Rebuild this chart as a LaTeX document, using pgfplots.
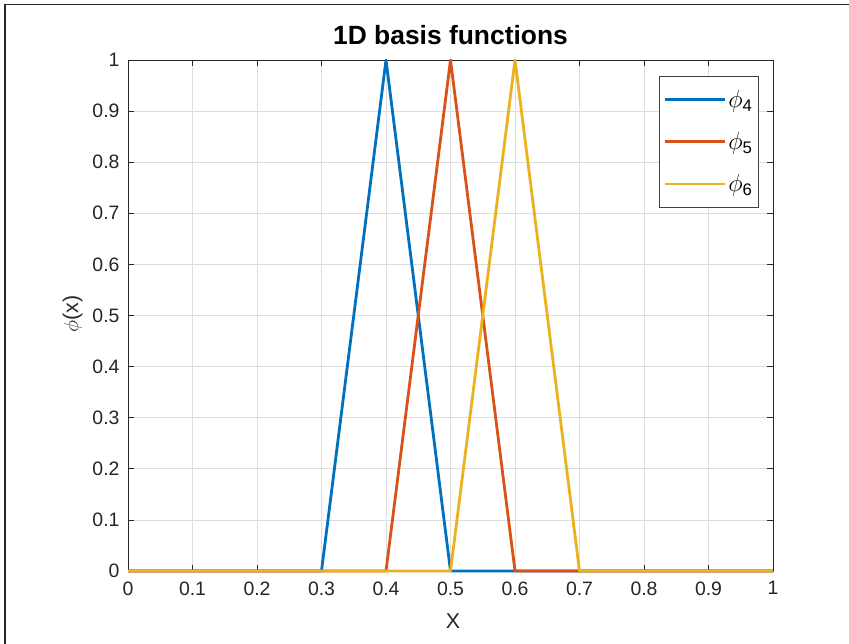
\documentclass[border=0pt]{standalone}
\usepackage{pgfplots}
\pgfplotsset{compat=1.18}
\usepackage{fontspec}
\setmainfont{Liberation Sans}

\definecolor{c1}{rgb}{0,0.447,0.741}
\definecolor{c2}{rgb}{0.850,0.325,0.098}
\definecolor{c3}{rgb}{0.929,0.694,0.125}
\definecolor{axgray}{rgb}{0.15,0.15,0.15}

\begin{document}
\begin{tikzpicture}[x=1bp,y=1bp]
\path[use as bounding box] (0,0) rectangle (849,644);
\fill[white] (0,0) rectangle (849,644);
\draw[line width=1.3bp, black!85] (5,0) -- (5,639.5) -- (849,639.5);
\begin{axis}[
  at={(128bp,73bp)}, anchor=south west,
  scale only axis, width=645bp, height=511bp,
  xmin=0, xmax=1, ymin=0, ymax=1,
  xtick={0,0.1,0.2,0.3,0.4,0.5,0.6,0.7,0.8,0.9,1},
  ytick={0,0.1,0.2,0.3,0.4,0.5,0.6,0.7,0.8,0.9,1},
  /pgf/number format/assume math mode=true,
  tick label style={font=\fontsize{19.5}{22}\selectfont, text=axgray},
  xticklabel style={yshift=-7bp},
  yticklabel style={xshift=-5bp},
  tick align=inside,
  major tick length=6bp,
  every tick/.style={axgray, line width=0.6bp},
  axis line style={axgray, line width=0.7bp},
  grid=major,
  major grid style={black!13, line width=0.6bp},
  clip=false,
  title={1D basis functions},
  title style={font=\bfseries\fontsize{26.5}{30}\selectfont, at={(axis description cs:0.5,1.0372)}, anchor=center},
  xlabel={X},
  xlabel style={font=\fontsize{21.5}{24}\selectfont, text=axgray, at={(axis description cs:0.504,-0.098)}, anchor=center},
  ylabel={$\phi$(x)},
  ylabel style={font=\fontsize{21.5}{24}\selectfont, text=axgray, at={(axis description cs:-0.086,0.503)}, anchor=center},
  legend style={at={(axis description cs:0.978,0.969)}, anchor=north east,
    draw=black!75, line width=0.7bp, fill=white,
    font=\fontsize{24}{26}\selectfont,
    row sep=19.5bp, inner xsep=4bp, inner ysep=12bp},
  legend cell align=left,
  legend image code/.code={\draw[#1, line width=2.8bp] (0bp,0bp) -- (60bp,0bp);},
]
\addplot[c1, line width=2.8bp, line join=round] coordinates {(0,0) (0.3,0) (0.4,1) (0.5,0) (0.6,0) (1,0)};
\addlegendentry{$\phi$\textsubscript{4}}
\addplot[c2, line width=2.8bp, line join=round] coordinates {(0,0) (0.4,0) (0.5,1) (0.6,0) (0.7,0) (1,0)};
\addlegendentry{$\phi$\textsubscript{5}}
\addplot[c3, line width=2.8bp, line join=round] coordinates {(0,0) (0.5,0) (0.6,1) (0.7,0) (1,0)};
\addlegendentry{$\phi$\textsubscript{6}}
\end{axis}
\end{tikzpicture}
\end{document}
